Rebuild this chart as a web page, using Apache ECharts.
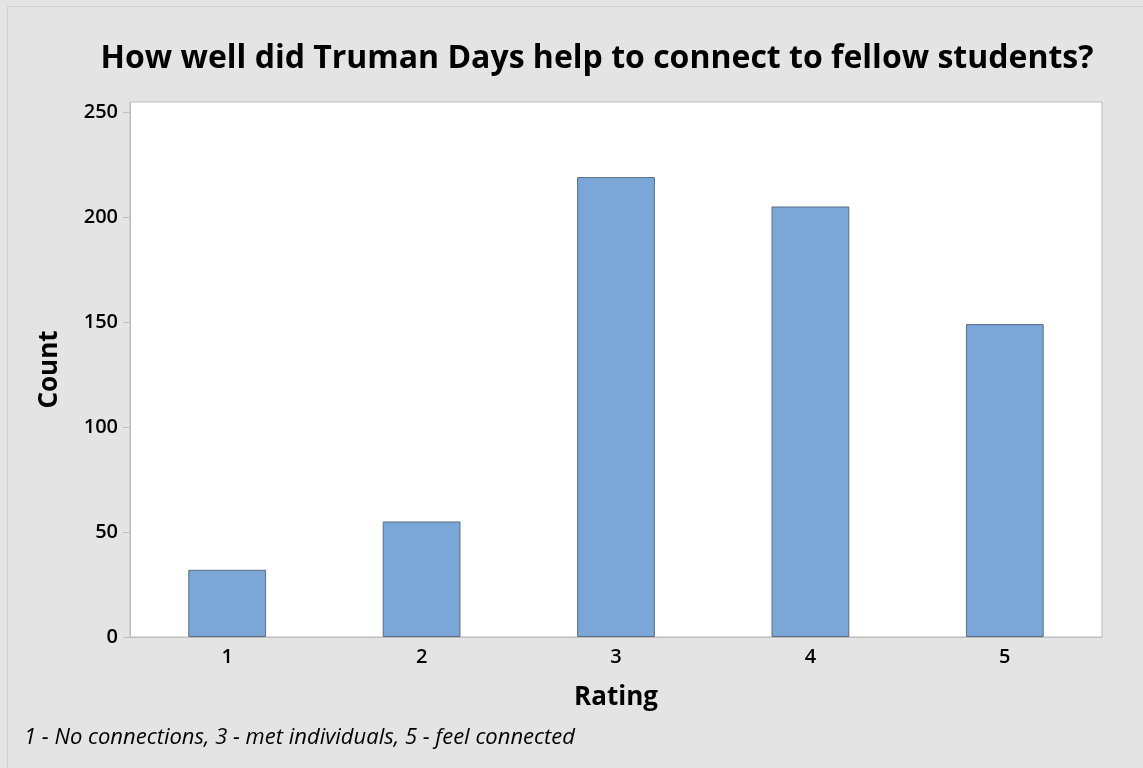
<!DOCTYPE html>
<html>
<head>
<meta charset="utf-8">
<script src="https://cdn.jsdelivr.net/npm/echarts@6/dist/echarts.min.js"></script>
<style>
  html, body { margin: 0; padding: 0; background: #e4e4e4; }
  #chart { width: 1143px; height: 768px; }
</style>
</head>
<body>
<div id="chart"></div>
<script>
  // data
  var ratings = ['1', '2', '3', '4', '5']
  var counts = [32, 55, 219, 205, 149]
  var yTicks = [0, 50, 100, 150, 200, 250]

  var font = '"Open Sans", "Noto Sans", sans-serif'
  var chart = echarts.init(document.getElementById('chart'))

  chart.setOption({
    backgroundColor: '#e4e4e4',
    animation: false,
    title: {
      text: 'How well did Truman Days help to connect to fellow students?',
      left: 592,
      top: 38,
      textAlign: 'center',
      textStyle: {
        fontFamily: font,
        fontSize: 32,
        fontWeight: 'bold',
        color: '#000'
      }
    },
    graphic: [
      { // outer frame
        type: 'rect',
        shape: { x: 7.5, y: 6.5, width: 1200, height: 800 },
        style: { fill: 'none', stroke: '#d0d0d0', lineWidth: 1 },
        silent: true
      },
      { // footnote
        type: 'text',
        left: 24,
        top: 727,
        style: {
          text: '1 - No connections, 3 - met individuals, 5 - feel connected',
          fontFamily: font,
          fontSize: 22,
          fontStyle: 'italic',
          fill: '#000'
        }
      }
    ],
    grid: {
      left: 130,
      right: 41,
      top: 102,
      bottom: 131,
      show: true,
      backgroundColor: '#fff',
      borderColor: '#bdbdbd',
      borderWidth: 1
    },
    xAxis: {
      type: 'category',
      data: ratings,
      name: 'Rating',
      nameLocation: 'middle',
      nameGap: 48,
      nameTextStyle: { fontFamily: font, fontSize: 26, fontWeight: 'bold', color: '#000' },
      axisLine: { lineStyle: { color: '#bdbdbd' } },
      axisTick: { alignWithLabel: true, length: 7, lineStyle: { color: '#bdbdbd' } },
      axisLabel: { fontFamily: font, fontSize: 20, fontWeight: 600, color: '#000', margin: 10 }
    },
    yAxis: {
      type: 'value',
      min: 0,
      max: 250 * 535 / 525,
      name: 'Count',
      nameLocation: 'middle',
      nameGap: 67,
      nameTextStyle: { fontFamily: font, fontSize: 26, fontWeight: 'bold', color: '#000' },
      splitLine: { show: false },
      axisLine: { show: true, lineStyle: { color: '#bdbdbd' } },
      axisTick: { show: true, length: 7, customValues: yTicks, lineStyle: { color: '#bdbdbd' } },
      axisLabel: { fontFamily: font, fontSize: 20, fontWeight: 600, color: '#000', margin: 12, customValues: yTicks }
    },
    series: [
      {
        type: 'bar',
        data: counts,
        barWidth: '40%',
        itemStyle: {
          color: '#7ba7d8',
          borderColor: '#5b6b80',
          borderWidth: 1
        }
      }
    ]
  })
</script>
</body>
</html>
